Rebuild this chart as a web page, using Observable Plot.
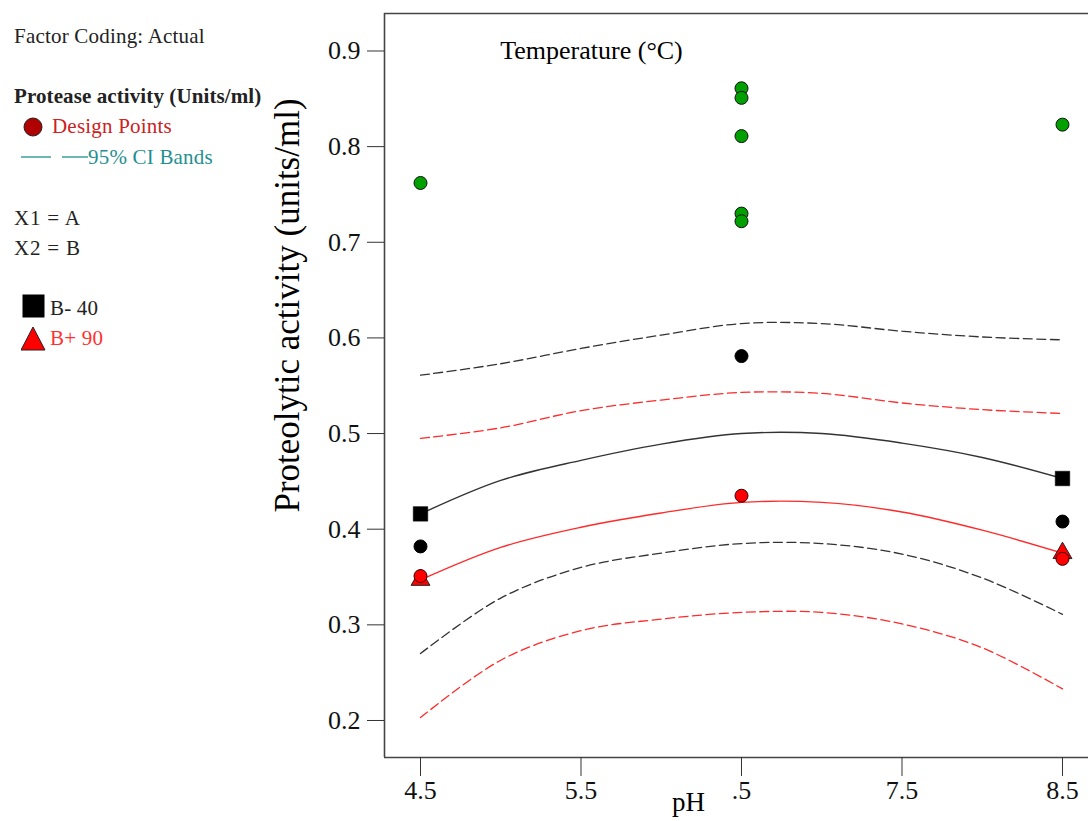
<!DOCTYPE html>
<html>
<head>
<meta charset="utf-8">
<script src="https://cdn.jsdelivr.net/npm/d3@7"></script>
<script src="https://cdn.jsdelivr.net/npm/@observablehq/plot@0.6"></script>
<style>
  html, body { margin: 0; padding: 0; background: #fff; }
  #wrap { position: relative; width: 1088px; height: 821px; overflow: hidden; font-family: "Liberation Serif", "Times New Roman", serif; }
  #chart { position: absolute; left: 0; top: 0; }
  .lg { position: absolute; font-size: 21px; line-height: 20px; white-space: nowrap; color: #222; letter-spacing: 0.2px; }
  .lgsvg { position: absolute; }
</style>
</head>
<body>
<div id="wrap">
  <div id="chart"></div>
  <div class="lg" style="left:14px;top:26px;">Factor Coding: Actual</div>
  <div class="lg" style="left:14px;top:86px;font-weight:bold;letter-spacing:0.1px;">Protease activity (Units/ml)</div>
  <svg class="lgsvg" style="left:22px;top:116px" width="22" height="22"><circle cx="11" cy="11" r="9" fill="#b00000" stroke="#222" stroke-width="1"/></svg>
  <div class="lg" style="left:52px;top:116px;color:#cc2222;">Design Points</div>
  <svg class="lgsvg" style="left:20px;top:148px" width="70" height="20"><line x1="1" y1="9" x2="31" y2="9" stroke="#1f9090" stroke-width="1.3"/><line x1="42" y1="9" x2="68" y2="9" stroke="#1f9090" stroke-width="1.3"/></svg>
  <div class="lg" style="left:88px;top:147px;color:#1f9090;">95% CI Bands</div>
  <div class="lg" style="left:14px;top:208px;letter-spacing:0.8px;">X1 = A</div>
  <div class="lg" style="left:14px;top:238px;letter-spacing:0.8px;">X2 = B</div>
  <svg class="lgsvg" style="left:22px;top:294px" width="24" height="26"><rect x="0.5" y="0.5" width="22" height="23" fill="#000"/></svg>
  <div class="lg" style="left:50px;top:298px;">B- 40</div>
  <svg class="lgsvg" style="left:21px;top:326px" width="26" height="26"><polygon points="12,1 24,24 0,24" fill="#ff0000" stroke="#222" stroke-width="1"/></svg>
  <div class="lg" style="left:50px;top:328px;color:#ff3030;">B+ 90</div>
</div>
<script>
// ---- data ----
const pHGrid = [4.5, 5.0, 5.5, 6.0, 6.5, 7.0, 7.5, 8.0, 8.5];
const predLow  = [0.416, 0.451, 0.472, 0.489, 0.500, 0.500, 0.490, 0.475, 0.453]; // B- 40
const predHigh = [0.347, 0.381, 0.402, 0.417, 0.428, 0.428, 0.418, 0.399, 0.375]; // B+ 90
const ciLowUpper  = [0.561, 0.573, 0.589, 0.603, 0.615, 0.615, 0.607, 0.601, 0.598];
const ciLowLower  = [0.270, 0.328, 0.360, 0.375, 0.385, 0.385, 0.374, 0.349, 0.311];
const ciHighUpper = [0.495, 0.506, 0.524, 0.535, 0.543, 0.542, 0.532, 0.525, 0.521];
const ciHighLower = [0.203, 0.263, 0.294, 0.306, 0.313, 0.313, 0.301, 0.276, 0.233];

const greenPH  = [4.5, 6.5, 6.5, 6.5, 6.5, 6.5, 8.5];
const greenVal = [0.762, 0.861, 0.851, 0.811, 0.730, 0.722, 0.823];
const blackPH  = [4.5, 6.5, 8.5];
const blackVal = [0.382, 0.581, 0.408];
const redPH    = [4.5, 6.5, 8.5];
const redVal   = [0.351, 0.435, 0.369];

const xTicks = [4.5, 5.5, 6.5, 7.5, 8.5];
const xTickLabels = ["4.5", "5.5", ".5", "7.5", "8.5"];
const yTicks = [0.2, 0.3, 0.4, 0.5, 0.6, 0.7, 0.8, 0.9];

const xLabel = "pH";
const yLabel = "Proteolytic activity (units/ml)";
const topLabel = "Temperature (°C)";

// ---- build tables ----
const toRows = (xs, ys) => xs.map((x, i) => ({x, y: ys[i]}));
const lowRows = toRows(pHGrid, predLow);
const highRows = toRows(pHGrid, predHigh);
const ends = rows => [rows[0], rows[rows.length - 1]];

const xDomain = [4.2757, 8.662];
const yDomain = [0.1613, 0.9392];

const serif = "Liberation Serif, Times New Roman, serif";
const dash = "9,4.5";
const chart = Plot.plot({
  width: 1088,
  height: 821,
  marginLeft: 384,
  marginRight: 0,
  marginTop: 13,
  marginBottom: 64,
  style: {fontFamily: serif, fontSize: "26px", background: "#fff", color: "#111"},
  x: {domain: xDomain},
  y: {domain: yDomain},
  marks: [
    Plot.ruleX([xDomain[0]], {stroke: "#444", strokeWidth: 1.6}),
    Plot.ruleY([yDomain[0], yDomain[1]], {stroke: "#444", strokeWidth: 1.6}),
    Plot.axisY({ticks: yTicks, tickSize: 17, tickPadding: 7, tickFormat: d3.format(".1f"), label: null, stroke: "#333", fill: "#111"}),
    Plot.axisX({ticks: xTicks, tickSize: 19, tickPadding: 4, tickFormat: (d, i) => xTickLabels[i], label: null, stroke: "#333", fill: "#111"}),
    // CI bands
    Plot.line(toRows(pHGrid, ciLowUpper), {x: "x", y: "y", stroke: "#333", strokeWidth: 1.3, strokeDasharray: dash, curve: "catmull-rom"}),
    Plot.line(toRows(pHGrid, ciLowLower), {x: "x", y: "y", stroke: "#333", strokeWidth: 1.3, strokeDasharray: dash, curve: "catmull-rom"}),
    Plot.line(toRows(pHGrid, ciHighUpper), {x: "x", y: "y", stroke: "#ff2a2a", strokeWidth: 1.3, strokeDasharray: dash, curve: "catmull-rom"}),
    Plot.line(toRows(pHGrid, ciHighLower), {x: "x", y: "y", stroke: "#ff2a2a", strokeWidth: 1.3, strokeDasharray: dash, curve: "catmull-rom"}),
    // predictions
    Plot.line(lowRows, {x: "x", y: "y", stroke: "#333", strokeWidth: 1.4, curve: "catmull-rom"}),
    Plot.line(highRows, {x: "x", y: "y", stroke: "#ff2a2a", strokeWidth: 1.4, curve: "catmull-rom"}),
    // end markers
    Plot.dot(ends(highRows), {x: "x", y: "y", symbol: "triangle", r: 7, fill: "#ff0000", stroke: "#222", strokeWidth: 1}),
    Plot.dot(toRows(redPH, redVal), {x: "x", y: "y", r: 6.5, fill: "#ff0000", stroke: "#300", strokeWidth: 1}),
    Plot.dot(ends(lowRows), {x: "x", y: "y", symbol: "square", r: 8.2, fill: "#000", stroke: "#000", strokeWidth: 0.5}),
    Plot.dot(toRows(blackPH, blackVal), {x: "x", y: "y", r: 6.5, fill: "#000", stroke: "#000", strokeWidth: 1}),
    Plot.dot(toRows(greenPH, greenVal), {x: "x", y: "y", r: 6.5, fill: "#00a000", stroke: "#111", strokeWidth: 1}),
    // labels
    Plot.text([topLabel], {text: d => d, frameAnchor: "top-left", dx: 207, dy: 37, lineAnchor: "middle", textAnchor: "middle", fontSize: 26, fill: "#000"}),
    Plot.text([xLabel], {text: d => d, frameAnchor: "bottom", dx: -48, dy: 45, lineAnchor: "middle", textAnchor: "middle", fontSize: 27, fill: "#000"}),
    Plot.text([yLabel], {text: d => d, frameAnchor: "left", dx: -97, dy: -80, rotate: -90, lineAnchor: "middle", textAnchor: "middle", fontSize: 35, fill: "#000"})
  ]
});
document.getElementById("chart").appendChild(chart);
</script>
</body>
</html>
